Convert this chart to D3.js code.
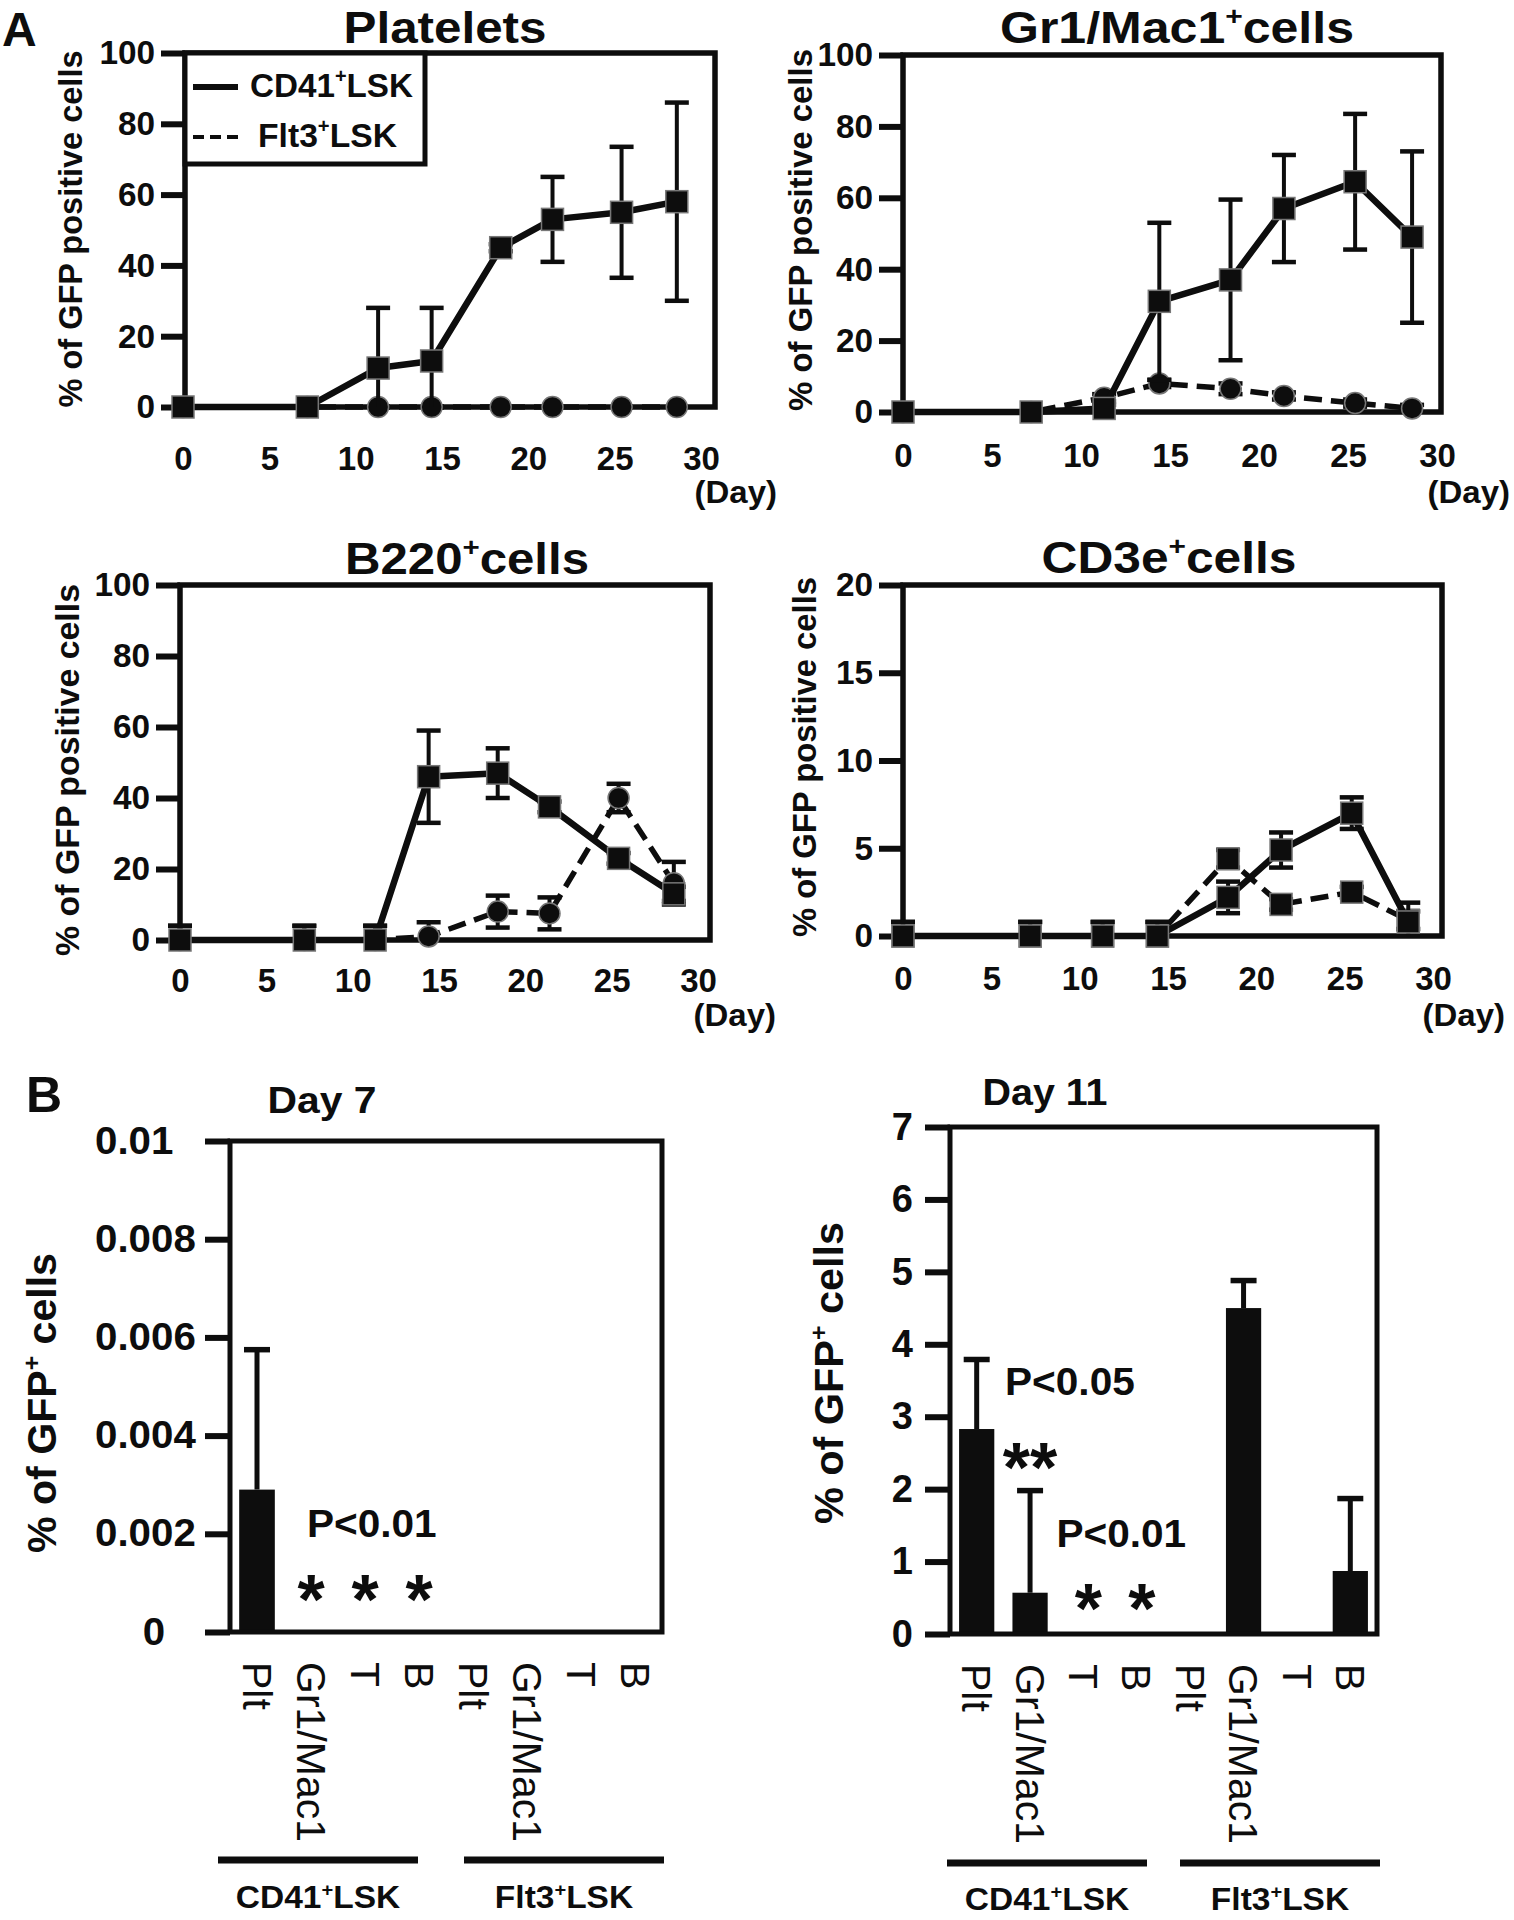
<!DOCTYPE html>
<html>
<head>
<meta charset="utf-8">
<script src="https://cdn.jsdelivr.net/npm/d3@7"></script>
<style>
  body { margin: 0; background: #fff; }
  svg text { font-family: "Liberation Sans", Arial, Helvetica, sans-serif; fill: #0d0d0d; }
</style>
</head>
<body>
<svg id="fig" width="1514" height="1920"></svg>
<script>
// ---- data ----
const days = [0, 7.2, 11.3, 14.4, 18.4, 21.4, 25.4, 28.6];
const dayTicks = [0, 5, 10, 15, 20, 25, 30];
const pctTicks100 = [0, 20, 40, 60, 80, 100];
const pctTicks20 = [0, 5, 10, 15, 20];

const plateletsCD41 = [0, 0, 11, 13, 45, 53, 55, 58];
const plateletsCD41Err = [0, 0, 17, 15, 1, 12, 18.5, 28];
const plateletsFlt3 = [0, 0, 0, 0, 0, 0, 0, 0];
const plateletsFlt3Err = [0, 0, 0, 0, 0, 0, 0, 0];

const gr1CD41 = [0, 0, 1, 31, 37, 57, 64.5, 49];
const gr1CD41Err = [0, 0, 1, 22, 22.5, 15, 19, 24];
const gr1Flt3 = [0, 0, 4, 8, 6.5, 4.5, 2.5, 1];
const gr1Flt3Err = [0, 0, 1, 1, 1.5, 1, 1, 1];

const b220CD41 = [0, 0, 0, 46, 47, 37.5, 23, 13];
const b220CD41Err = [4, 4, 4, 13, 7, 1.5, 1.5, 2];
const b220Flt3 = [0, 0, 0, 1, 8, 7.5, 40, 16];
const b220Flt3Err = [4, 4, 4, 4, 4.5, 4.5, 4, 6];

const cd3CD41 = [0, 0, 0, 0, 2.2, 4.9, 7.0, 0.8];
const cd3CD41Err = [0.8, 0.8, 0.8, 0.8, 0.9, 1.0, 0.9, 1.1];
const cd3Flt3 = [0, 0, 0, 0, 4.4, 1.8, 2.5, 0.9];
const cd3Flt3Err = [0.8, 0.8, 0.8, 0.8, 0.5, 0.3, 0.3, 0.5];

const barCategories = ["Plt", "Gr1/Mac1", "T", "B", "Plt", "Gr1/Mac1", "T", "B"];
const barGroups = ["CD41^+^LSK", "Flt3^+^LSK"];
const day7Values = [0.0029, 0, 0, 0, 0, 0, 0, 0];
const day7Err = [0.00285, 0, 0, 0, 0, 0, 0, 0];
const day7Ticks = [0, 0.002, 0.004, 0.006, 0.008, 0.01];
const day11Values = [2.83, 0.57, 0, 0, 0, 4.5, 0, 0.87];
const day11Err = [0.96, 1.41, 0, 0, 0, 0.38, 0, 1.0];
const day11Ticks = [0, 1, 2, 3, 4, 5, 6, 7];

// significance notes: category index + value where they sit
const day7Notes = [{ text: "P<0.01", cat: 1, value: 0.00193, dx: -4 }];
const day7Stars = [{ text: "*", cat: 1, value: 0.00098 }, { text: "*", cat: 2, value: 0.00098 }, { text: "*", cat: 3, value: 0.00098 }];
const day11Notes = [{ text: "P<0.05", cat: 1, value: 3.3, dx: -25 }, { text: "P<0.01", cat: 2, value: 1.2, dx: -27 }];
const day11Stars = [{ text: "**", cat: 1, value: 2.51 }, { text: "*", cat: 2, value: 0.57, dx: 5 }, { text: "*", cat: 3, value: 0.57, dx: 5 }];

// ---- helpers ----
const ink = "#0d0d0d";
const svg = d3.select("#fig");

function widen(sel, k) {
  sel.each(function () {
    const w = this.getComputedTextLength();
    if (w > 0) d3.select(this).attr("textLength", w * k).attr("lengthAdjust", "spacingAndGlyphs");
  });
}

// "CD41^+^LSK" -> superscript for the parts between carets
function richText(el, str, size) {
  let shift = 0;
  str.split("^").forEach((s, i) => {
    if (s === "") return;
    const t = el.append("tspan").text(s);
    if (i % 2 === 1) {
      t.attr("font-size", size * 0.6).attr("dy", -size * 0.4);
      shift = size * 0.4;
    } else if (shift) {
      t.attr("dy", shift);
      shift = 0;
    }
  });
  return el;
}

function addText(g, o) {
  const t = g.append("text")
    .attr("font-size", o.size)
    .attr("font-weight", o.weight || "bold")
    .attr("text-anchor", o.anchor || "middle");
  if (o.rotate) {
    t.attr("transform", `translate(${o.x},${o.y}) rotate(${o.rotate})`).attr("dy", "0.35em");
  } else {
    t.attr("x", o.x).attr("y", o.y);
  }
  richText(t, o.str, o.size);
  if (o.len) t.attr("textLength", o.len).attr("lengthAdjust", "spacingAndGlyphs");
  else if (o.k) widen(t, o.k);
  return t;
}

// ---- panel A: time courses ----
const linePanels = [
  { title: "Platelets", cd41: plateletsCD41, cd41Err: plateletsCD41Err, flt3: plateletsFlt3, flt3Err: plateletsFlt3Err,
    ticks: pctTicks100, yMax: 100, flt3Shape: "circle", legend: true,
    left: 185, right: 715, top: 53, zero: 407, x0: 183, x30: 701,
    titleX: 445, titleY: 43, titleW: 203, ylabX: 70, ylabY: 229, ylabLen: 357, xLabY: 470, dayX: 777, dayY: 503 },
  { title: "Gr1/Mac1^+^cells", cd41: gr1CD41, cd41Err: gr1CD41Err, flt3: gr1Flt3, flt3Err: gr1Flt3Err,
    ticks: pctTicks100, yMax: 100, flt3Shape: "circle",
    left: 903, right: 1441, top: 55, zero: 412, x0: 903, x30: 1437,
    titleX: 1177, titleY: 43, titleW: 354, ylabX: 800, ylabY: 230, ylabLen: 362, xLabY: 467, dayX: 1510, dayY: 503 },
  { title: "B220^+^cells", cd41: b220CD41, cd41Err: b220CD41Err, flt3: b220Flt3, flt3Err: b220Flt3Err,
    ticks: pctTicks100, yMax: 100, flt3Shape: "circle",
    left: 180, right: 710, top: 585, zero: 940, x0: 180, x30: 698,
    titleX: 467, titleY: 574, titleW: 244, ylabX: 67, ylabY: 770, ylabLen: 372, xLabY: 992, dayX: 776, dayY: 1026 },
  { title: "CD3e^+^cells", cd41: cd3CD41, cd41Err: cd3CD41Err, flt3: cd3Flt3, flt3Err: cd3Flt3Err,
    ticks: pctTicks20, yMax: 20, flt3Shape: "square",
    left: 903, right: 1442, top: 585, zero: 936, x0: 903, x30: 1433,
    titleX: 1169, titleY: 573, titleW: 255, ylabX: 804, ylabY: 757, ylabLen: 360, xLabY: 990, dayX: 1505, dayY: 1026 }
];

function drawMarker(g, shape, cx, cy) {
  if (shape === "square") {
    g.append("rect").attr("x", cx - 11).attr("y", cy - 11).attr("width", 22).attr("height", 22)
      .attr("fill", ink).attr("stroke", "#777").attr("stroke-width", 1.5);
  } else {
    g.append("circle").attr("cx", cx).attr("cy", cy).attr("r", 10.5)
      .attr("fill", ink).attr("stroke", "#777").attr("stroke-width", 1.5);
  }
}

function linePanel(p) {
  const g = svg.append("g");
  const x = d3.scaleLinear().domain([0, 30]).range([p.x0, p.x30]);
  const y = d3.scaleLinear().domain([0, p.yMax]).range([p.zero, p.top]);

  g.append("rect")
    .attr("x", p.left).attr("y", p.top)
    .attr("width", p.right - p.left).attr("height", p.zero - p.top)
    .attr("fill", "none").attr("stroke", ink).attr("stroke-width", 5.5);

  const ya = g.append("g").attr("transform", `translate(${p.left},0)`)
    .call(d3.axisLeft(y).tickValues(p.ticks).tickSize(24).tickPadding(6));
  ya.select(".domain").remove();
  ya.selectAll(".tick line").attr("stroke", ink).attr("stroke-width", 6);
  ya.selectAll(".tick text").attr("font-size", 34).attr("font-weight", "bold").call(widen, 0.98);

  const xa = g.append("g").attr("transform", `translate(0,${p.zero})`)
    .call(d3.axisBottom(x).tickValues(dayTicks).tickSize(0));
  xa.select(".domain").remove();
  xa.selectAll(".tick text").attr("y", p.xLabY - p.zero).attr("dy", 0)
    .attr("font-size", 33).attr("font-weight", "bold").call(widen, 1.0);

  const series = [
    { vals: p.flt3, errs: p.flt3Err, dashed: true, shape: p.flt3Shape },
    { vals: p.cd41, errs: p.cd41Err, dashed: false, shape: "square" }
  ];
  const line = d3.line().x(d => x(d.day)).y(d => y(d.v));

  series.forEach(s => {
    const pts = days.map((d, i) => ({ day: d, v: s.vals[i], e: s.errs[i] }));
    g.append("path").datum(pts).attr("d", line)
      .attr("fill", "none").attr("stroke", ink)
      .attr("stroke-width", s.dashed ? 5.5 : 6.5)
      .attr("stroke-dasharray", s.dashed ? "18,9" : null)
      .attr("stroke-linejoin", "round");

    pts.filter(d => d.e > 0).forEach(d => {
      const cx = x(d.day);
      const hi = y(Math.min(d.v + d.e, p.yMax));
      const lo = y(Math.max(d.v - d.e, 0));
      g.append("line").attr("x1", cx).attr("x2", cx).attr("y1", hi).attr("y2", lo)
        .attr("stroke", ink).attr("stroke-width", 4);
      g.append("line").attr("x1", cx - 12).attr("x2", cx + 12).attr("y1", hi).attr("y2", hi)
        .attr("stroke", ink).attr("stroke-width", 4.5);
      if (d.v - d.e > 0) {
        g.append("line").attr("x1", cx - 12).attr("x2", cx + 12).attr("y1", lo).attr("y2", lo)
          .attr("stroke", ink).attr("stroke-width", 4.5);
      }
    });

    pts.forEach(d => drawMarker(g, s.shape, x(d.day), y(d.v)));
  });

  addText(g, { x: p.titleX, y: p.titleY, str: p.title, size: 44, len: p.titleW });
  addText(g, { x: p.ylabX, y: p.ylabY, str: "% of GFP positive cells", size: 34, rotate: -90, len: p.ylabLen });
  addText(g, { x: p.dayX, y: p.dayY, str: "(Day)", size: 32, anchor: "end", k: 1.03 });

  if (p.legend) {
    g.append("rect").attr("x", p.left).attr("y", p.top).attr("width", 240).attr("height", 111)
      .attr("fill", "#fff").attr("stroke", ink).attr("stroke-width", 5);
    g.append("line").attr("x1", p.left + 8).attr("x2", p.left + 53).attr("y1", 87).attr("y2", 87)
      .attr("stroke", ink).attr("stroke-width", 6);
    g.append("line").attr("x1", p.left + 8).attr("x2", p.left + 53).attr("y1", 137).attr("y2", 137)
      .attr("stroke", ink).attr("stroke-width", 4).attr("stroke-dasharray", "11,6");
    addText(g, { x: p.left + 65, y: 97, str: "CD41^+^LSK", size: 34, anchor: "start", len: 163 });
    addText(g, { x: p.left + 73, y: 147, str: "Flt3^+^LSK", size: 34, anchor: "start", len: 139 });
  }
}

linePanels.forEach(linePanel);

// ---- panel B: bar charts ----
const barPanels = [
  { title: "Day 7", values: day7Values, errs: day7Err, ticks: day7Ticks, yMax: 0.01,
    fmt: d => d === 0 ? "0" : String(+d.toFixed(3)), tickSize: 38, tickK: 1.06, labelStart: 95, zeroLabelX: 154,
    notes: day7Notes, stars: day7Stars,
    left: 230, right: 662, top: 1141, zero: 1632,
    titleX: 322, titleY: 1113, titleW: 109, ylabX: 42, ylabY: 1403, ylabLen: 300,
    catTop: 1662, groupY: 1860, groupCenters: [318, 564], groupLabY: 1908 },
  { title: "Day 11", values: day11Values, errs: day11Err, ticks: day11Ticks, yMax: 7,
    fmt: d => String(d), tickSize: 38, tickK: 1.0,
    notes: day11Notes, stars: day11Stars,
    left: 950, right: 1377, top: 1127, zero: 1634,
    titleX: 1045, titleY: 1105, titleW: 125, ylabX: 829, ylabY: 1373, ylabLen: 302,
    catTop: 1664, groupY: 1863, groupCenters: [1047, 1280], groupLabY: 1910 }
];

function barPanel(p) {
  const g = svg.append("g");
  const x = d3.scaleBand().domain(d3.range(barCategories.length))
    .range([p.left, p.right]).paddingInner(0.34).paddingOuter(0.17);
  const y = d3.scaleLinear().domain([0, p.yMax]).range([p.zero, p.top]);
  const cx = i => x(i) + x.bandwidth() / 2;

  g.selectAll("rect.bar").data(p.values).join("rect").attr("class", "bar")
    .attr("x", (d, i) => x(i)).attr("width", x.bandwidth())
    .attr("y", d => y(d)).attr("height", d => p.zero - y(d))
    .attr("fill", ink);

  p.errs.forEach((e, i) => {
    if (e <= 0) return;
    const top = y(p.values[i] + e);
    g.append("line").attr("x1", cx(i)).attr("x2", cx(i)).attr("y1", y(p.values[i])).attr("y2", top)
      .attr("stroke", ink).attr("stroke-width", 5);
    g.append("line").attr("x1", cx(i) - 13).attr("x2", cx(i) + 13).attr("y1", top).attr("y2", top)
      .attr("stroke", ink).attr("stroke-width", 5.5);
  });

  g.append("rect")
    .attr("x", p.left).attr("y", p.top)
    .attr("width", p.right - p.left).attr("height", p.zero - p.top)
    .attr("fill", "none").attr("stroke", ink).attr("stroke-width", 5);

  const ya = g.append("g").attr("transform", `translate(${p.left},0)`)
    .call(d3.axisLeft(y).tickValues(p.ticks).tickFormat(p.fmt).tickSize(25).tickPadding(12));
  ya.select(".domain").remove();
  ya.selectAll(".tick line").attr("stroke", ink).attr("stroke-width", 6);
  const yt = ya.selectAll(".tick text").attr("font-size", p.tickSize).attr("font-weight", "bold");
  if (p.labelStart != null) {
    yt.attr("text-anchor", d => d === 0 ? "middle" : "start")
      .attr("x", d => (d === 0 ? p.zeroLabelX : p.labelStart) - p.left);
  }
  yt.call(widen, p.tickK);

  barCategories.forEach((c, i) => {
    addText(g, { x: cx(i), y: p.catTop, str: c, size: 41, weight: "normal", anchor: "start", rotate: 90 });
  });

  barGroups.forEach((grp, j) => {
    const c = p.groupCenters[j];
    g.append("line").attr("x1", c - 100).attr("x2", c + 100).attr("y1", p.groupY).attr("y2", p.groupY)
      .attr("stroke", ink).attr("stroke-width", 7);
    addText(g, { x: c, y: p.groupLabY, str: grp, size: 31, k: 1.08 });
  });

  p.notes.forEach(n => {
    addText(g, { x: cx(n.cat) + n.dx, y: y(n.value), str: n.text, size: 39, anchor: "start", k: 1.04 });
  });
  p.stars.forEach(s => {
    addText(g, { x: cx(s.cat) + (s.dx || 0), y: y(s.value) + 40, str: s.text, size: 70 });
  });

  addText(g, { x: p.titleX, y: p.titleY, str: p.title, size: 36, len: p.titleW });
  addText(g, { x: p.ylabX, y: p.ylabY, str: "% of GFP^+^ cells", size: 41, rotate: -90, len: p.ylabLen });
}

barPanels.forEach(barPanel);

// panel letters
addText(svg, { x: 2, y: 46, str: "A", size: 48, anchor: "start" });
addText(svg, { x: 26, y: 1112, str: "B", size: 50, anchor: "start" });
</script>
</body>
</html>
